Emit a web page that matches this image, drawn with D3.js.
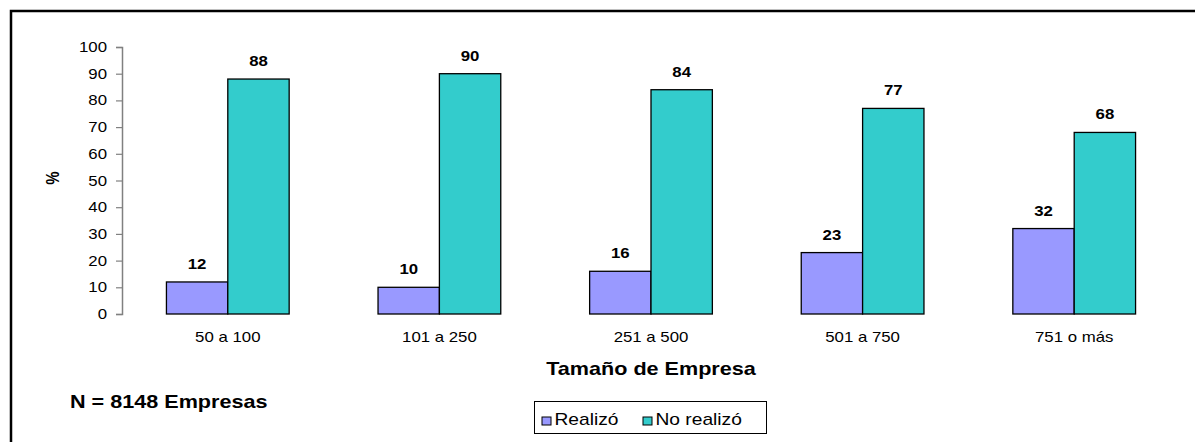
<!DOCTYPE html>
<html>
<head>
<meta charset="utf-8">
<script src="https://cdn.jsdelivr.net/npm/d3@7"></script>
<style>
  html, body { margin: 0; padding: 0; background: #fff; }
  svg { display: block; font-family: Arial, "Liberation Sans", sans-serif; }
</style>
</head>
<body>
<svg id="chart" width="1195" height="442"></svg>
<script>
// Company size categories
const categories = ["50 a 100", "101 a 250", "251 a 500", "501 a 750", "751 o más"];
// Series: share of companies (%)
const realizo = [12, 10, 16, 23, 32];
const noRealizo = [88, 90, 84, 77, 68];
const seriesNames = ["Realizó", "No realizó"];
const seriesColors = ["#9999FF", "#33CCCC"];
const yTicks = [0, 10, 20, 30, 40, 50, 60, 70, 80, 90, 100];

// Text is drawn slightly widened horizontally
const SX = 1.2;

const svg = d3.select("#chart");

function label(parent, x, y, txt, opts = {}) {
  const t = parent.append("text")
    .attr("transform", `translate(${x},${y}) scale(${SX},1)`)
    .attr("text-anchor", opts.anchor || "middle")
    .attr("font-size", opts.size || 14)
    .attr("font-weight", opts.bold ? "bold" : "normal")
    .attr("fill", "#000")
    .text(txt);
  return t;
}

// Outer frame
svg.append("rect")
  .attr("x", 11).attr("y", 11)
  .attr("width", 1200).attr("height", 460)
  .attr("fill", "none").attr("stroke", "#000").attr("stroke-width", 2.5);

const plot = { left: 122, right: 1180, top: 47, bottom: 314 };

const x0 = d3.scaleBand().domain(categories).range([plot.left, plot.right]).paddingInner(0).paddingOuter(0);
const groupW = x0.bandwidth() * 0.58;
const x1 = d3.scaleBand().domain(seriesNames).range([0, groupW]).padding(0);
const groupOffset = (x0.bandwidth() - groupW) / 2;
const y = d3.scaleLinear().domain([0, 100]).range([plot.bottom, plot.top]);

// Y axis
const yAxis = svg.append("g")
  .attr("transform", `translate(${plot.left},0)`)
  .call(d3.axisLeft(y).tickValues(yTicks).tickSize(6).tickSizeOuter(6).tickFormat(""));
yAxis.select(".domain").attr("stroke", "#808080").attr("stroke-width", 1.5);
yAxis.selectAll(".tick line").attr("stroke", "#808080").attr("stroke-width", 1.2);

const yLabels = svg.append("g");
yTicks.forEach(t => label(yLabels, 107, y(t) + 5, t, { anchor: "end", size: 14 }));

// Y title
svg.append("text")
  .attr("transform", "translate(59,178) rotate(-90) scale(1,1.2)")
  .attr("text-anchor", "middle")
  .attr("font-size", 15).attr("font-weight", "bold")
  .text("%");

const data = categories.map((c, i) => ({ cat: c, vals: [realizo[i], noRealizo[i]] }));

const groups = svg.append("g").selectAll("g")
  .data(data).join("g")
  .attr("transform", d => `translate(${x0(d.cat) + groupOffset},0)`);

groups.selectAll("rect")
  .data(d => d.vals.map((v, j) => ({ name: seriesNames[j], v, j })))
  .join("rect")
  .attr("x", d => x1(d.name))
  .attr("y", d => y(d.v))
  .attr("width", x1.bandwidth())
  .attr("height", d => y(0) - y(d.v))
  .attr("fill", d => seriesColors[d.j])
  .attr("stroke", "#000").attr("stroke-width", 1.3);

groups.each(function (d) {
  const g = d3.select(this);
  d.vals.forEach((v, j) => {
    label(g, x1(seriesNames[j]) + x1.bandwidth() / 2, y(v) - 13, v, { size: 14, bold: true });
  });
});

// X category labels
const xLabels = svg.append("g");
categories.forEach(c => label(xLabels, x0(c) + x0.bandwidth() / 2, 342, c, { size: 14 }));

// X title
label(svg, 651, 375, "Tamaño de Empresa", { size: 18, bold: true });

// Sample size note
label(svg, 70, 408, "N = 8148 Empresas", { size: 18, bold: true, anchor: "start" });

// Legend
const lg = svg.append("g").attr("transform", "translate(534.5,401.5)");
lg.append("rect").attr("width", 232).attr("height", 32)
  .attr("fill", "#fff").attr("stroke", "#000").attr("stroke-width", 1);
const items = [
  { name: seriesNames[0], color: seriesColors[0], x: 7.5, tx: 36 },
  { name: seriesNames[1], color: seriesColors[1], x: 108.5, tx: 121 }
];
items.forEach(it => {
  lg.append("rect").attr("x", it.x).attr("y", 15.5).attr("width", 9).attr("height", 8)
    .attr("fill", it.color).attr("stroke", "#000").attr("stroke-width", 1);
  label(lg, it.x + 12.5, 23.5, it.name, { size: 16, anchor: "start" });
});
</script>
</body>
</html>
